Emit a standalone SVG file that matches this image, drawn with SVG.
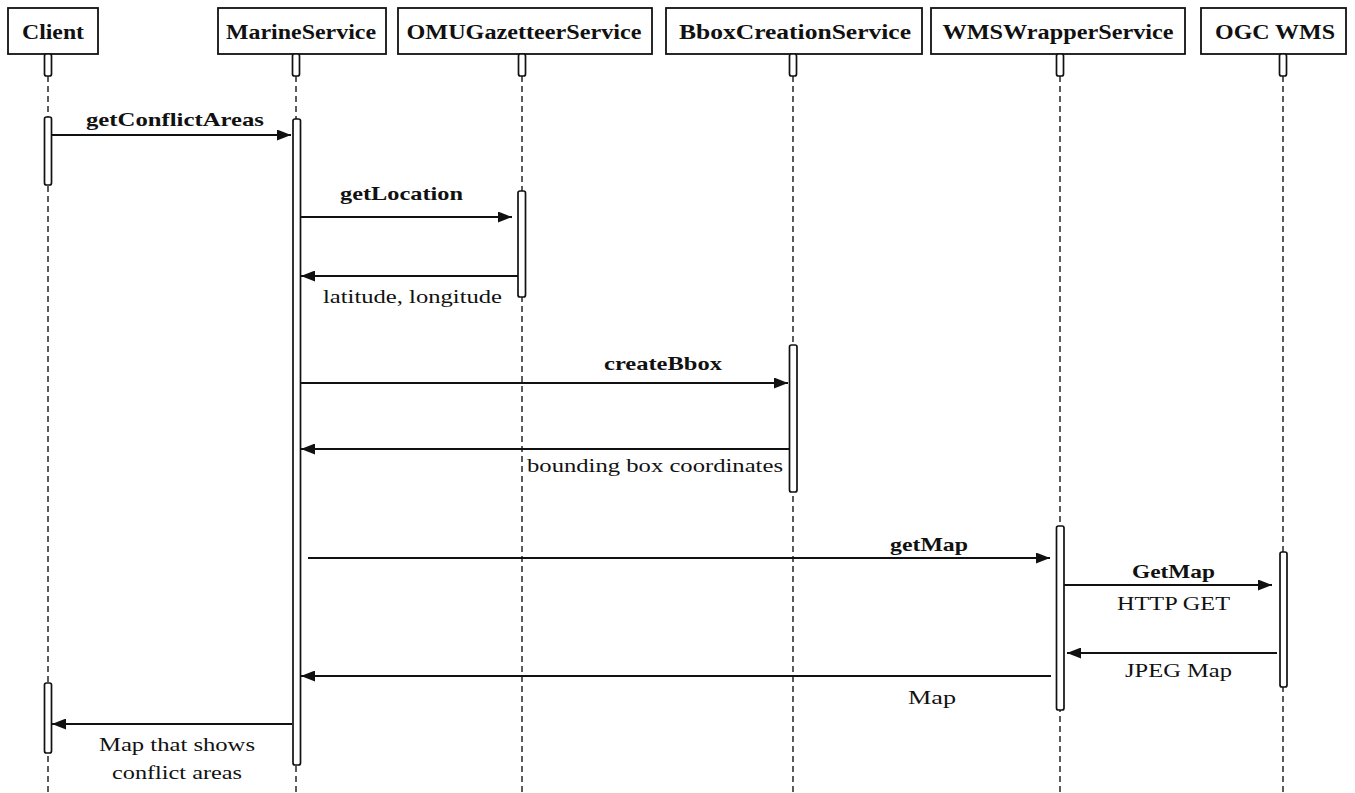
<svg xmlns="http://www.w3.org/2000/svg" width="1355" height="793" viewBox="0 0 1355 793">
<defs>
<style>
.box{fill:#fff;stroke:#111;stroke-width:1.8}
.h{font-family:'Liberation Serif','DejaVu Serif','Times New Roman',serif;font-weight:bold;font-size:20px;fill:#111;text-anchor:middle}
.b{font-family:'Liberation Serif','DejaVu Serif','Times New Roman',serif;font-weight:bold;font-size:19px;fill:#111}
.n{font-family:'Liberation Serif','DejaVu Serif','Times New Roman',serif;font-size:19px;fill:#111}
.life{stroke:#333;stroke-width:1.6;stroke-dasharray:6 4;fill:none}
.act{fill:#fff;stroke:#111;stroke-width:1.7}
.msg{stroke:#111;stroke-width:2;fill:none}
</style>
<marker id="ah" viewBox="0 0 14 11" refX="14" refY="5.5" markerWidth="14" markerHeight="11" markerUnits="userSpaceOnUse" orient="auto">
<path d="M0,0 L14,5.5 L0,11 Z" fill="#111"/>
</marker>
</defs>
<rect width="1355" height="793" fill="#fff"/>

<g id="lifelines">
<line class="life" x1="48" y1="76" x2="48" y2="793"/>
<line class="life" x1="296" y1="76" x2="296" y2="793"/>
<line class="life" x1="522" y1="76" x2="522" y2="793"/>
<line class="life" x1="793" y1="76" x2="793" y2="793"/>
<line class="life" x1="1060" y1="76" x2="1060" y2="793"/>
<line class="life" x1="1283" y1="76" x2="1283" y2="793"/>
</g>

<g id="client">
<rect class="box" x="8" y="8" width="90" height="46"/>
<text class="h" x="53" y="39" textLength="62" lengthAdjust="spacingAndGlyphs">Client</text>
<rect class="act" x="44.5" y="54" width="7" height="22" rx="2"/>
<rect class="act" x="44.5" y="117" width="7" height="68" rx="2"/>
<rect class="act" x="44.5" y="683" width="7" height="70" rx="2"/>
</g>
<g id="marine">
<rect class="box" x="218" y="8" width="168" height="46"/>
<text class="h" x="301" y="39" textLength="150" lengthAdjust="spacingAndGlyphs">MarineService</text>
<rect class="act" x="292.5" y="54" width="7" height="22" rx="2"/>
<rect class="act" x="293" y="119" width="7.5" height="646" rx="2"/>
</g>
<g id="omu">
<rect class="box" x="398" y="8" width="254" height="46"/>
<text class="h" x="524" y="39" textLength="235" lengthAdjust="spacingAndGlyphs">OMUGazetteerService</text>
<rect class="act" x="518.5" y="54" width="7" height="22" rx="2"/>
<rect class="act" x="518" y="191" width="7.5" height="106" rx="2"/>
</g>
<g id="bbox">
<rect class="box" x="666" y="8" width="256" height="46"/>
<text class="h" x="795" y="39" textLength="232" lengthAdjust="spacingAndGlyphs">BboxCreationService</text>
<rect class="act" x="789.5" y="54" width="7" height="22" rx="2"/>
<rect class="act" x="789.5" y="345" width="7.5" height="147" rx="2"/>
</g>
<g id="wmswrapper">
<rect class="box" x="931" y="8" width="254" height="46"/>
<text class="h" x="1058" y="39" textLength="231" lengthAdjust="spacingAndGlyphs">WMSWrapperService</text>
<rect class="act" x="1056.5" y="54" width="7" height="22" rx="2"/>
<rect class="act" x="1056.5" y="526" width="7.5" height="184" rx="2"/>
</g>
<g id="ogcwms">
<rect class="box" x="1201" y="8" width="145" height="46"/>
<text class="h" x="1275" y="39" textLength="120" lengthAdjust="spacingAndGlyphs">OGC WMS</text>
<rect class="act" x="1279.5" y="54" width="7" height="22" rx="2"/>
<rect class="act" x="1280" y="552" width="7" height="135" rx="2"/>
</g>

<g id="connectors">
<line class="msg" x1="52" y1="135" x2="291" y2="135" marker-end="url(#ah)"/>
<line class="msg" x1="301" y1="217" x2="512" y2="217" marker-end="url(#ah)"/>
<line class="msg" x1="518" y1="276" x2="301" y2="276" marker-end="url(#ah)"/>
<line class="msg" x1="301" y1="383" x2="788" y2="383" marker-end="url(#ah)"/>
<line class="msg" x1="789" y1="449" x2="301" y2="449" marker-end="url(#ah)"/>
<line class="msg" x1="308" y1="558" x2="1050" y2="558" marker-end="url(#ah)"/>
<line class="msg" x1="1064" y1="585" x2="1272" y2="585" marker-end="url(#ah)"/>
<line class="msg" x1="1277" y1="653" x2="1067" y2="653" marker-end="url(#ah)"/>
<line class="msg" x1="1051" y1="676" x2="301" y2="676" marker-end="url(#ah)"/>
<line class="msg" x1="292" y1="724" x2="52" y2="724" marker-end="url(#ah)"/>
</g>

<g id="labels">
<text class="b" x="86" y="126" textLength="178" lengthAdjust="spacingAndGlyphs">getConflictAreas</text>
<text class="b" x="340" y="200" textLength="123" lengthAdjust="spacingAndGlyphs">getLocation</text>
<text class="n" x="323" y="303" textLength="179" lengthAdjust="spacingAndGlyphs">latitude, longitude</text>
<text class="b" x="604" y="370" textLength="118" lengthAdjust="spacingAndGlyphs">createBbox</text>
<text class="n" x="527" y="472" textLength="256" lengthAdjust="spacingAndGlyphs">bounding box coordinates</text>
<text class="b" x="890" y="551" textLength="78" lengthAdjust="spacingAndGlyphs">getMap</text>
<text class="b" x="1132" y="578" textLength="83" lengthAdjust="spacingAndGlyphs">GetMap</text>
<text class="n" x="1117" y="610" textLength="113" lengthAdjust="spacingAndGlyphs">HTTP GET</text>
<text class="n" x="1125" y="677" textLength="107" lengthAdjust="spacingAndGlyphs">JPEG Map</text>
<text class="n" x="908" y="704" textLength="48" lengthAdjust="spacingAndGlyphs">Map</text>
<text class="n" x="99" y="751" textLength="156" lengthAdjust="spacingAndGlyphs">Map that shows</text>
<text class="n" x="112" y="779" textLength="130" lengthAdjust="spacingAndGlyphs">conflict areas</text>
</g>
</svg>
